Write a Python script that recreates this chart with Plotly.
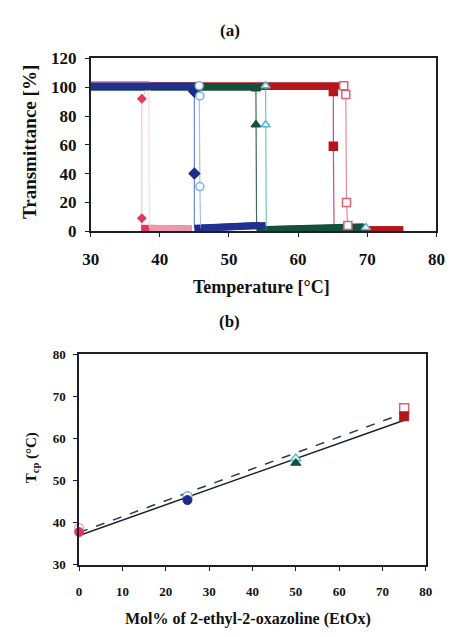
import numpy as np
import plotly.graph_objects as go

W, H = 455, 637

# ---------------- Panel (a) data: transmittance vs temperature ----------------
# each curve: high plateau (T start, T end, level), transition markers, low plateau (T start, T end, level start, level end)
curve_names = ["0% heat", "0% cool", "25% heat", "25% cool", "50% heat", "50% cool", "75% heat", "75% cool"]
hi_T0 = [30, 30, 30, 30, 30, 30, 30, 30]
hi_T1 = [38.4, 38.6, 45.0, 45.7, 53.9, 55.3, 65.3, 66.6]
hi_lv = [101.8, 101.8, 100.5, 100.8, 100, 100.5, 100.5, 101]
tr_T = [[37.4, 37.4], [38.4], [45.0, 45.0, 45.0], [45.7, 45.8, 45.8],
        [53.9, 53.9], [55.3, 55.3], [65.1, 65.1], [66.6, 66.9, 67.0, 67.2]]
tr_Tr = [[92, 9], [95], [97, 97, 40], [101, 94, 31],
         [99, 74], [101, 74], [97, 59], [101, 95, 20, 4]]
lo_T0 = [37.3, 38.5, 45.0, 45.9, 54.0, 55.4, 65.2, 67.2]
lo_T1 = [44.6, 44.6, 54.5, 55.3, 69.5, 69.8, 75.2, 75.2]
lo_lv0 = [2, 2, 2, 2, 1, 1, 1, 1]
lo_lv1 = [1.5, 1.5, 4, 4, 3, 2.5, 1, 1]
end_marker = [False, False, False, False, False, True, False, False]

a_xticks = [30, 40, 50, 60, 70, 80]
a_yticks = [0, 20, 40, 60, 80, 100, 120]

band_col = ["#e0395f", "#ee98ab", "#1d2b8c", "#22318f", "#15503a", "#15503a", "#b3171c", "#b3171c"]
line_col = ["#f6c6d1", "#f9dbe2", "#6c8ad0", "#9cc2ec", "#3f6a5c", "#6cc4d4", "#c64a96", "#e58a96"]
mk_sym = ["diamond", "circle-open", "diamond", "circle", "triangle-up", "triangle-up", "square", "square"]
mk_fill = ["#e0395f", "rgba(0,0,0,0)", "#1d2b8c", "white", "#15503a", "white", "#b3171c", "white"]
mk_line = ["#e0395f", "#f4b8c6", "#1d2b8c", "#7fb0e8", "#15503a", "#52b8cc", "#b3171c", "#e06070"]
mk_size = [6, 6, 8, 8, 8, 8, 8, 8]
draw_order = [6, 7, 4, 5, 0, 1, 2, 3]

# ---------------- Panel (b) data: Tcp vs EtOx content ----------------
etox = [0, 25, 50, 75]
tcp_heat = [37.8, 45.4, 54.2, 65.3]
tcp_cool = [38.7, 46.3, 55.3, 67.2]
b_xticks = [0, 10, 20, 30, 40, 50, 60, 70, 80]
b_yticks = [30, 40, 50, 60, 70, 80]
b_colors = ["#e0395f", "#1d2b8c", "#15503a", "#b3171c"]
b_open_line = ["#f0a0b4", "#7fb0e8", "#52b8cc", "#e06070"]
b_sym = ["circle", "circle", "triangle-up", "square"]


def px(x):
    return x / W


def py(y):
    return 1 - y / H


def bold(vals):
    return ["<b>%d</b>" % v for v in vals]


fig = go.Figure()

# panel (a) traces
for i in draw_order:
    xs = [hi_T1[i]] + tr_T[i] + [lo_T0[i]]
    ys = [hi_lv[i]] + tr_Tr[i] + [lo_lv0[i]]
    fig.add_trace(go.Scatter(x=xs, y=ys, mode="lines", line=dict(color=line_col[i], width=1.2),
                             xaxis="x", yaxis="y", hoverinfo="skip", showlegend=False))
    fig.add_trace(go.Scatter(x=[hi_T0[i], hi_T1[i]], y=[hi_lv[i], hi_lv[i]], mode="lines",
                             line=dict(color=band_col[i], width=7), xaxis="x", yaxis="y",
                             showlegend=False, name=curve_names[i]))
    fig.add_trace(go.Scatter(x=[lo_T0[i], lo_T1[i]], y=[lo_lv0[i], lo_lv1[i]], mode="lines",
                             line=dict(color=band_col[i], width=7), xaxis="x", yaxis="y",
                             showlegend=False, name=curve_names[i]))
for i in draw_order:
    mx = list(tr_T[i])
    my = list(tr_Tr[i])
    if end_marker[i]:
        mx.append(lo_T1[i])
        my.append(lo_lv1[i])
    fig.add_trace(go.Scatter(x=mx, y=my, mode="markers",
                             marker=dict(symbol=mk_sym[i], size=mk_size[i], color=mk_fill[i],
                                         line=dict(color=mk_line[i], width=1.5)),
                             xaxis="x", yaxis="y", showlegend=False, cliponaxis=False))

# panel (b) fits
xfit = np.array([0, 75])
ph = np.polyfit(etox, tcp_heat, 1)
pc = np.polyfit(etox, tcp_cool, 1)
fig.add_trace(go.Scatter(x=xfit, y=np.polyval(pc, xfit), mode="lines",
                         line=dict(color="#2d3a4a", width=1.5, dash="dash"),
                         xaxis="x2", yaxis="y2", showlegend=False))
fig.add_trace(go.Scatter(x=xfit, y=np.polyval(ph, xfit), mode="lines",
                         line=dict(color="#1a2230", width=1.5),
                         xaxis="x2", yaxis="y2", showlegend=False))
for k in range(4):
    fig.add_trace(go.Scatter(x=[etox[k]], y=[tcp_cool[k]], mode="markers",
                             marker=dict(symbol=b_sym[k], size=9, color="white",
                                         line=dict(color=b_open_line[k], width=1.5)),
                             xaxis="x2", yaxis="y2", showlegend=False, cliponaxis=False))
    fig.add_trace(go.Scatter(x=[etox[k]], y=[tcp_heat[k]], mode="markers",
                             marker=dict(symbol=b_sym[k], size=9, color=b_colors[k],
                                         line=dict(color=b_colors[k], width=1)),
                             xaxis="x2", yaxis="y2", showlegend=False, cliponaxis=False))

font_b = "Liberation Serif"
axis_common = dict(showline=True, linecolor="#1a1f2e", linewidth=1.5, mirror=True,
                   showgrid=False, zeroline=False, ticks="outside", ticklen=4,
                   tickcolor="#1a1f2e", tickmode="array")

fig.update_layout(
    width=W, height=H, margin=dict(l=0, r=0, t=0, b=0),
    paper_bgcolor="white", plot_bgcolor="white",
    font=dict(family=font_b, color="#111"),
    xaxis=dict(domain=[px(85), px(445)], anchor="y", range=[30, 80],
               tickvals=a_xticks, ticktext=bold(a_xticks),
               tickfont=dict(size=17, family=font_b, color="#111"), ticklabelstandoff=8,
               **axis_common),
    yaxis=dict(domain=[py(229), py(51)], anchor="x", range=[0, 120],
               tickvals=a_yticks, ticktext=bold(a_yticks),
               tickfont=dict(size=17, family=font_b, color="#111"), ticklabelstandoff=5,
               **axis_common),
    xaxis2=dict(domain=[px(73), px(434)], anchor="y2", range=[0, 80],
                tickvals=b_xticks, ticktext=bold(b_xticks),
                tickfont=dict(size=13, family=font_b, color="#111"), ticklabelstandoff=10,
                **axis_common),
    yaxis2=dict(domain=[py(573), py(356)], anchor="x2", range=[30, 80],
                tickvals=b_yticks, ticktext=bold(b_yticks),
                tickfont=dict(size=13, family=font_b, color="#111"), ticklabelstandoff=5,
                **axis_common),
)

ann = [
    dict(text="<b>(a)</b>", x=px(230), y=py(22), size=17, angle=0),
    dict(text="<b>Temperature [°C]</b>", x=px(263), y=py(287), size=18, angle=0),
    dict(text="<b>Transmittance [%]</b>", x=px(22), y=py(137), size=19, angle=-90),
    dict(text="<b>(b)</b>", x=px(230), y=py(322), size=17, angle=0),
    dict(text="<b>Mol% of 2-ethyl-2-oxazoline (EtOx)</b>", x=px(249), y=py(629), size=16, angle=0),
    dict(text="<b>T<sub>cp</sub> (°C)</b>", x=px(24), y=py(463), size=15, angle=-90),
]
for a in ann:
    fig.add_annotation(text=a["text"], x=a["x"], y=a["y"], xref="paper", yref="paper",
                       showarrow=False, textangle=a["angle"], xanchor="center", yanchor="middle",
                       font=dict(size=a["size"], family=font_b, color="#111"))

fig.write_html("out.html")
